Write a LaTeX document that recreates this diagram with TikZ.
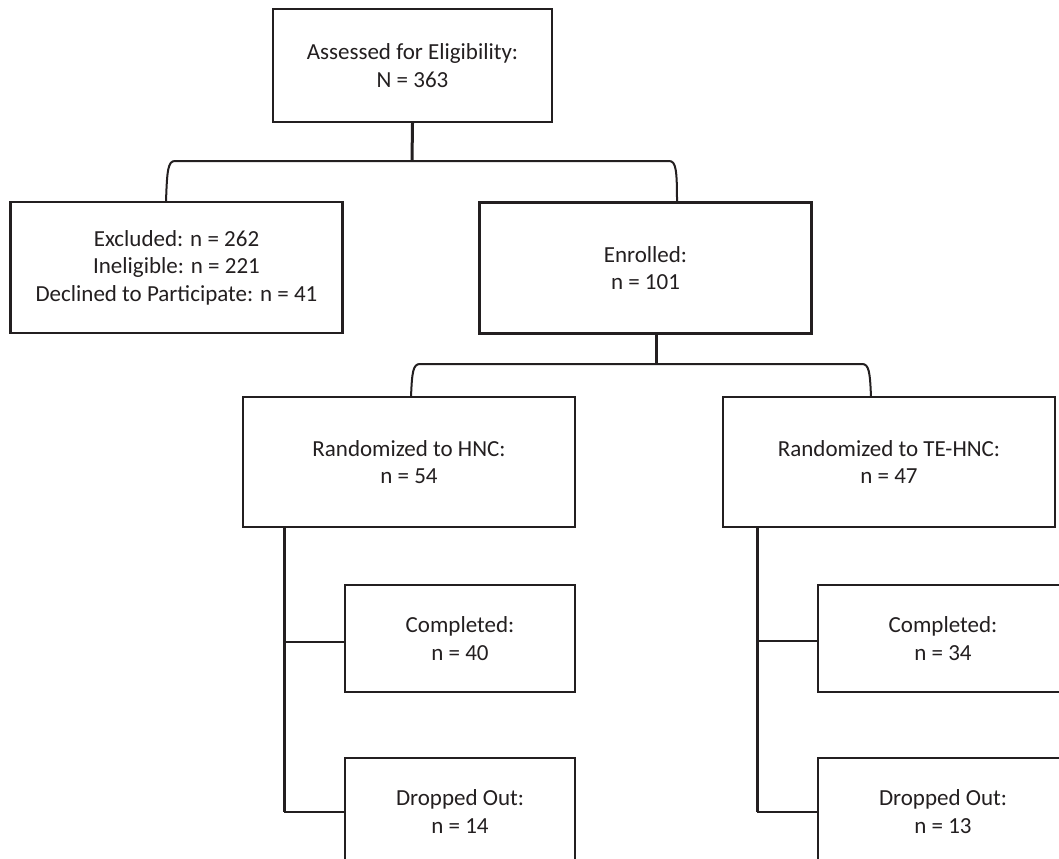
\documentclass[tikz,border=0pt]{standalone}
\usepackage{fontspec}
\setmainfont{Carlito}
\definecolor{ink}{HTML}{231F20}

\begin{document}
\begin{tikzpicture}[x=0.5pt, y=-0.5pt,
        box/.style={rectangle, draw=ink, line width=1.1pt, align=center, inner sep=0pt, text=ink, font=\fontsize{11.5}{13.7}\selectfont},
        wide/.style={box, minimum width=166pt, minimum height=65.5pt},
        small/.style={box, minimum width=115pt, minimum height=53.5pt},
        link/.style={draw=ink, line width=1pt},
        stem/.style={draw=ink, line width=1.5pt}
    ]
        \clip (0,0) rectangle (1059,858);
        \fill[white] (0,0) rectangle (1059,858);

        % Screening
        \node[box, minimum width=139.5pt, minimum height=56.5pt] (assessed) at (412.5,65.5) {Assessed for Eligibility:\\N = 363};
        \node[wide] (excluded) at (176.5,267.5) {Excluded: n = 262\\Ineligible: n = 221\\Declined to Participate: n = 41};
        \node[wide] (enrolled) at (645.5,268) {Enrolled:\\n = 101};

        % Randomization
        \node[wide, minimum height=65pt] (hnc) at (409,462) {Randomized to HNC:\\n = 54};
        \node[wide, minimum height=65pt] (tehnc) at (889,462) {Randomized to TE-HNC:\\n = 47};

        % Outcomes
        \node[small] (hnc-done) at (460,638.5) {Completed:\\n = 40};
        \node[small] (hnc-drop) at (460,811.5) {Dropped Out:\\n = 14};
        \node[small, minimum width=125pt] (tehnc-done) at (943,638.5) {Completed:\\n = 34};
        \node[small, minimum width=125pt] (tehnc-drop) at (943,811.5) {Dropped Out:\\n = 13};

        % Brackets
        \coordinate (split1) at (412,161);
        \coordinate (excluded-in) at (166,202);
        \coordinate (enrolled-in) at (677,202);
        \draw[stem] (assessed.south) -- (split1);
        \draw[link] (excluded-in) .. controls (167,170) and (168,161) .. (175,161) -- (split1)
            -- (669,161) .. controls (676,161) and (677,170) .. (enrolled-in);

        \coordinate (split2) at (656,364);
        \coordinate (hnc-in) at (411,397);
        \coordinate (tehnc-in) at (871,397);
        \draw[stem] (enrolled.south -| split2) -- (split2);
        \draw[link] (hnc-in) .. controls (412,372) and (413,364) .. (420,364) -- (split2)
            -- (862,364) .. controls (869,364) and (870,372) .. (tehnc-in);

        % Follow-up lines
        \coordinate (hnc-out) at (284,527);
        \coordinate (tehnc-out) at (757,527);
        \draw[stem] (hnc-out) -- (hnc-out |- hnc-drop.west);
        \draw[link] (hnc-out |- hnc-drop.west) -- (hnc-drop.west);
        \draw[link] (hnc-out |- 0,642) -- (hnc-done.west |- 0,642);
        \draw[stem] (tehnc-out) -- (tehnc-out |- tehnc-drop.west);
        \draw[link] (tehnc-out |- tehnc-drop.west) -- (tehnc-drop.west);
        \draw[link] (tehnc-out |- 0,641) -- (tehnc-done.west |- 0,641);
    \end{tikzpicture}
\end{document}
